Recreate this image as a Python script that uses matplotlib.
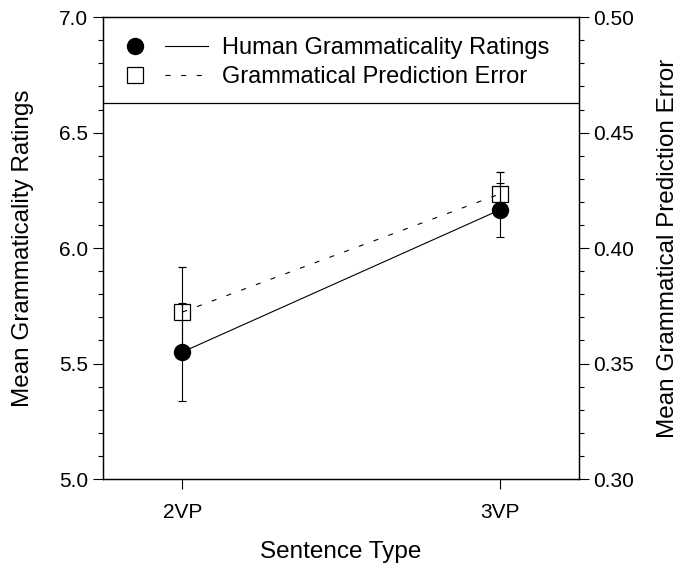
import matplotlib
matplotlib.use("Agg")
import matplotlib.pyplot as plt
from matplotlib.lines import Line2D
from matplotlib.legend_handler import HandlerTuple
from matplotlib.ticker import MultipleLocator, FormatStrFormatter

plt.rcParams['font.family'] = ['Liberation Sans', 'DejaVu Sans']
plt.rcParams['lines.scale_dashes'] = False

sentence_types = ['2VP', '3VP']
human_ratings = [5.55, 6.165]
human_err = [0.212, 0.115]
pred_error = [0.3723, 0.4234]
pred_err = [0.0195, 0.0096]

DASH = (0, (3.6, 7.7))

fig = plt.figure(figsize=(6.82, 5.71), dpi=100)
ax = fig.add_axes([0.151, 0.161, 0.698, 0.809])
ax2 = ax.twinx()

x = list(range(len(sentence_types)))

ax.errorbar(x, human_ratings, yerr=human_err, color='black', lw=0.8,
            marker='o', ms=11.5, mfc='black', mec='black',
            capsize=3, capthick=0.8, elinewidth=0.8, zorder=3)
ax2.errorbar(x, pred_error, yerr=pred_err, color='black', lw=0.8,
             ls=DASH, marker='s', ms=12, mfc='none', mec='black',
             mew=0.9, capsize=3, capthick=0.8, elinewidth=0.8, zorder=2)

ax.set_xlim(-0.25, 1.25)
ax.set_ylim(5.0, 7.0)
ax2.set_ylim(0.30, 0.50)

ax.set_xticks(x)
ax.set_xticklabels(sentence_types)
ax.yaxis.set_major_locator(MultipleLocator(0.5))
ax.yaxis.set_minor_locator(MultipleLocator(0.1))
ax.yaxis.set_major_formatter(FormatStrFormatter('%.1f'))
ax2.yaxis.set_major_locator(MultipleLocator(0.05))
ax2.yaxis.set_minor_locator(MultipleLocator(0.01))
ax2.yaxis.set_major_formatter(FormatStrFormatter('%.2f'))

for a in (ax, ax2):
    a.tick_params(which='major', length=7, width=0.8, labelsize=15, direction='out')
    a.tick_params(which='minor', length=3.6, width=0.8, direction='out')
    for s in a.spines.values():
        s.set_linewidth(0.9)
ax.tick_params(axis='x', pad=10)

ax.set_xlabel('Sentence Type', fontsize=17.5, labelpad=14)
ax.set_ylabel('Mean Grammaticality Ratings', fontsize=17.5, labelpad=18)
ax2.set_ylabel('Mean Grammatical Prediction Error', fontsize=17.5, labelpad=16)

# legend box bottom edge across the full width
ax2.plot([0, 1], [0.814, 0.814], transform=ax2.transAxes, color='black', lw=0.9,
         clip_on=False)

h1 = (Line2D([], [], marker='o', ms=11.5, color='black', ls='none'),
      Line2D([], [], color='black', lw=0.8))
h2 = (Line2D([], [], marker='s', ms=12, mfc='none', mec='black', mew=0.9, ls='none'),
      Line2D([], [], color='black', lw=0.8, ls=DASH))
ax2.legend([h1, h2], ['Human Grammaticality Ratings', 'Grammatical Prediction Error'],
           handler_map={tuple: HandlerTuple(ndivide=None, pad=0.36)},
           loc='center left', bbox_to_anchor=(0.022, 0.9015), frameon=False,
           fontsize=17, handlelength=4.0, handletextpad=0.6, borderpad=0,
           borderaxespad=0, labelspacing=0.3)

fig.savefig('out.png', dpi=100)
